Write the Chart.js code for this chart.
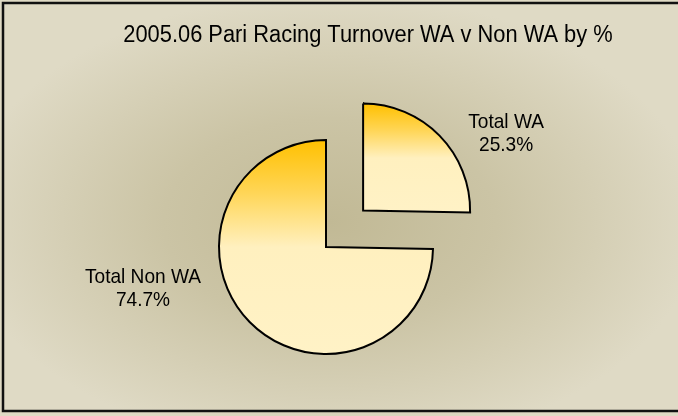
<!DOCTYPE html>
<html>
<head>
<meta charset="utf-8">
<script src="https://cdn.jsdelivr.net/npm/chart.js@4/dist/chart.umd.min.js"></script>
<style>
  html, body { margin: 0; padding: 0; background: #fff; }
  #wrap { width: 678px; height: 416px; }
</style>
</head>
<body>
<div id="wrap"><canvas id="pieChart" width="678" height="416"></canvas></div>
<script>
// ----- chart data -----
const chartTitle = "2005.06 Pari Racing Turnover WA v Non WA by %";
const categories = ["Total WA", "Total Non WA"];
const shares = [25.3, 74.7];

// ----- look -----
const FONT = '"Liberation Sans", Arial, sans-serif';
const PIE_R = 107;
const pullOut = [208, 0];          // chart.js draws offset/4 -> ~52px
const labelShift = [[143, -83], [-183, 36]];
const ORANGE = '#ffc000';
const CREAM = '#fff0bf';

// gradient per slice, top of slice = orange, fades to cream half way down
function sliceFill(c) {
    const area = c.chart.chartArea;
    if (!area) return CREAM;
    const cy = (area.top + area.bottom) / 2;
    const vals = c.dataset.data;
    const total = vals.reduce((a, b) => a + b, 0);
    let before = 0;
    for (let i = 0; i < c.dataIndex; i++) before += vals[i];
    const a0 = -Math.PI / 2 + before / total * Math.PI * 2;
    const a1 = a0 + vals[c.dataIndex] / total * Math.PI * 2;
    const ys = [cy, cy + PIE_R * Math.sin(a0), cy + PIE_R * Math.sin(a1)];
    [-Math.PI / 2, Math.PI / 2, Math.PI * 1.5].forEach(k => {
        if (k >= a0 && k <= a1) ys.push(cy + PIE_R * Math.sin(k));
    });
    const top = Math.min(...ys), bot = Math.max(...ys);
    const g = c.chart.ctx.createLinearGradient(0, top, 0, bot);
    g.addColorStop(0, ORANGE);
    g.addColorStop(0.25, '#ffd658');
    g.addColorStop(0.5, CREAM);
    g.addColorStop(1, '#fff2c6');
    return g;
}

// squeezed text, looks like Arial Narrow
function narrowText(ctx, txt, x, y, sx) {
    ctx.save();
    ctx.translate(x, y);
    ctx.scale(sx, 1);
    ctx.fillText(txt, 0, 0);
    ctx.restore();
}

// ----- background, title, labels, frame -----
const decor = {
    id: 'decor',
    beforeDraw(chart) {
        const ctx = chart.ctx;
        ctx.save();
        ctx.translate(330, 222);
        ctx.scale(1, 0.62);
        const g = ctx.createRadialGradient(0, 0, 0, 0, 0, 370);
        g.addColorStop(0, '#c1b995');
        g.addColorStop(0.45, '#cbc4a5');
        g.addColorStop(1, '#dfdac5');
        ctx.fillStyle = g;
        ctx.fillRect(-500, -600, 1100, 1200);
        ctx.restore();

        ctx.save();
        ctx.fillStyle = '#000';
        ctx.font = '23px ' + FONT;
        ctx.textAlign = 'center';
        ctx.textBaseline = 'alphabetic';
        narrowText(ctx, chartTitle, 368, 42, 0.95);
        ctx.restore();
    },
    afterDatasetsDraw(chart) {
        const ctx = chart.ctx;
        const meta = chart.getDatasetMeta(0);
        ctx.save();
        ctx.fillStyle = '#000';
        ctx.font = '21px ' + FONT;
        ctx.textAlign = 'center';
        ctx.textBaseline = 'alphabetic';
        meta.data.forEach((arc, i) => {
            const mid = (arc.startAngle + arc.endAngle) / 2;
            const off = (arc.options.offset || 0) / 4;
            const x = arc.x + Math.cos(mid) * off + labelShift[i][0];
            const y = arc.y + Math.sin(mid) * off + labelShift[i][1];
            narrowText(ctx, categories[i], x, y, 0.91);
            narrowText(ctx, shares[i].toFixed(1) + '%', x, y + 23, 0.91);
        });
        ctx.restore();
    },
    afterDraw(chart) {
        const ctx = chart.ctx;
        ctx.save();
        ctx.strokeStyle = '#111';
        ctx.lineWidth = 2.5;
        ctx.strokeRect(3, 3, 700, 408);
        ctx.restore();
    }
};

new Chart(document.getElementById('pieChart'), {
    type: 'pie',
    data: {
        labels: categories,
        datasets: [{
            data: shares,
            radius: PIE_R,
            backgroundColor: sliceFill,
            borderColor: '#000',
            borderWidth: 2,
            borderJoinStyle: 'miter',
            offset: pullOut,
            hoverOffset: 0
        }]
    },
    options: {
        responsive: false,
        animation: false,
        events: [],
        layout: { padding: { left: 0, right: 26, top: 78, bottom: 0 } },
        plugins: {
            legend: { display: false },
            tooltip: { enabled: false },
            title: { display: false }
        }
    },
    plugins: [decor]
});
</script>
</body>
</html>
